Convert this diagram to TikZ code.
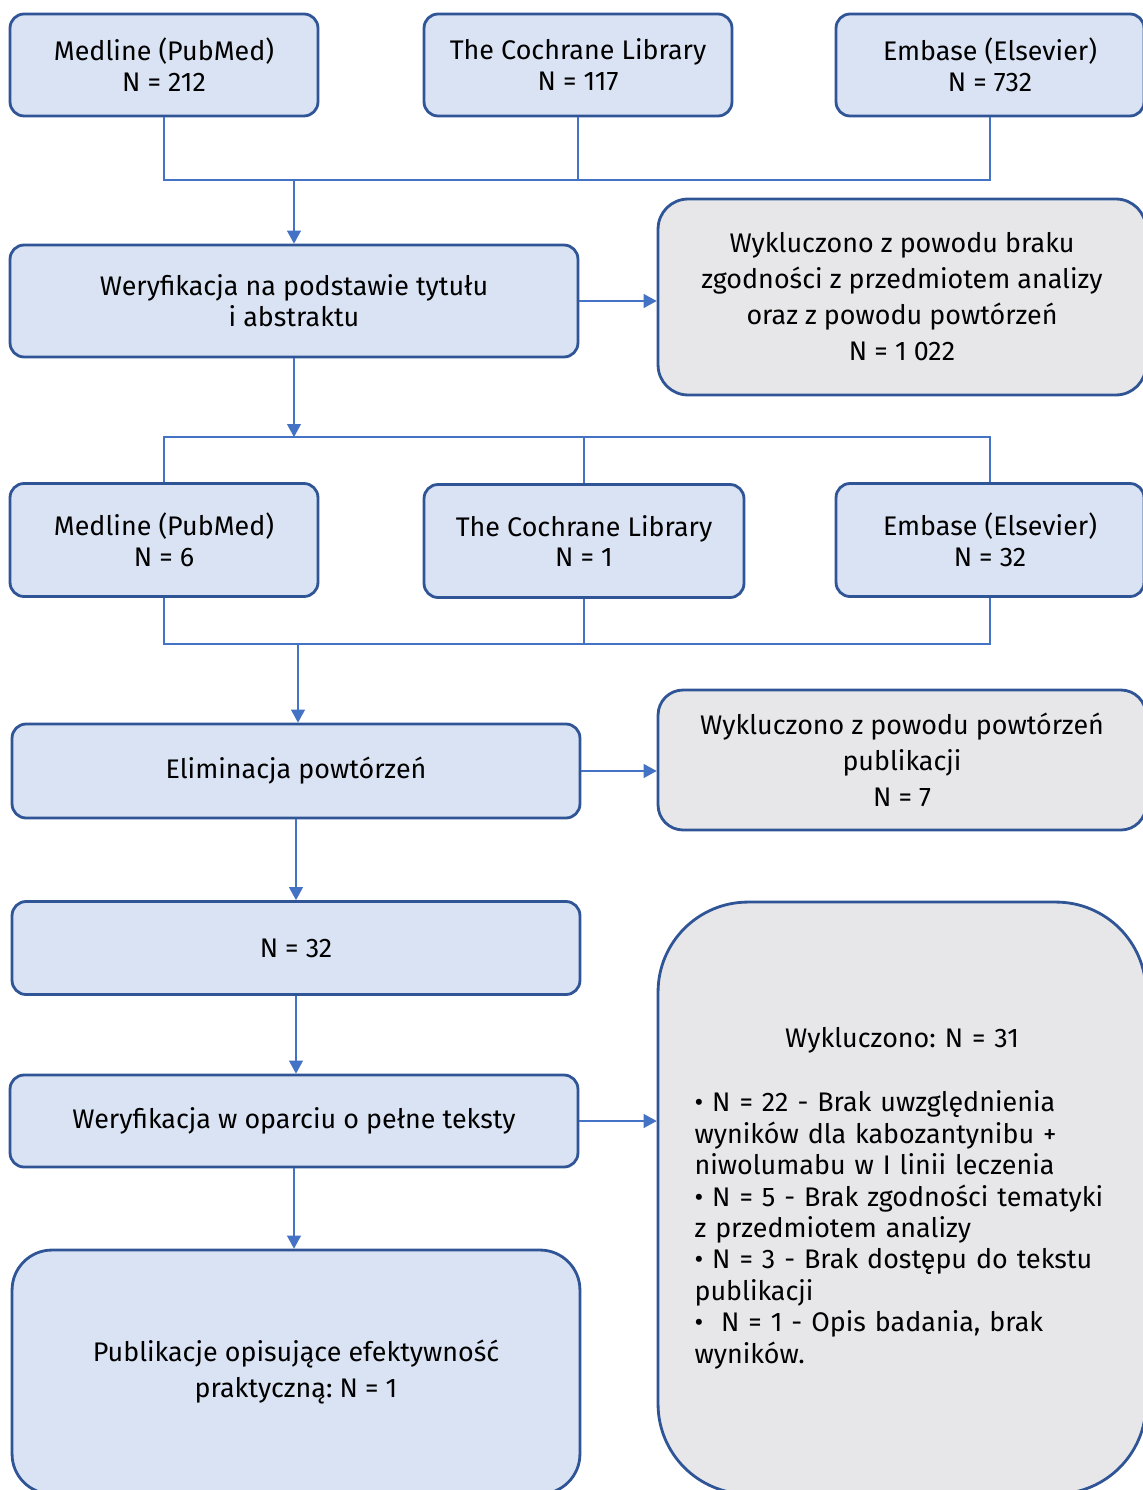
\documentclass[tikz,border=0pt]{standalone}
\usepackage{fontspec}
\setmainfont{Fira Sans}
\usepackage{tikz}
\usetikzlibrary{arrows.meta,positioning}

\definecolor{boxblue}{HTML}{DAE3F3}
\definecolor{boxgray}{HTML}{E7E7E9}
\definecolor{edgeblue}{HTML}{2F5597}
\definecolor{lineblue}{HTML}{4472C4}
\frenchspacing

\begin{document}
\begin{tikzpicture}[x=0.02cm, y=-0.02cm,
  baza/.style = {fill = boxblue, draw = edgeblue, line width = 1.6pt, shape = rectangle, rounded corners = 0.28cm, align = center, inner sep = 0pt, font = \fontsize{15.3}{17.6}\selectfont},
  szara/.style = {baza, fill = boxgray, font = \fontsize{15.3}{20.5}\selectfont},
  link/.style = {draw = lineblue, line width = 0.6pt},
  strzalka/.style = {link, -{Triangle[width = 0.28cm, length = 0.26cm]}}]
\useasboundingbox (0,0) rectangle (1142,1490);

% bazy - wyszukiwanie
\node[baza, minimum width = 6.16cm, minimum height = 2.04cm] (med1) at (164,65) {Medline (PubMed)\\N = 212};
\node[baza, minimum width = 6.16cm, minimum height = 2.04cm] (coch1) at (578,65) {The Cochrane Library\\N = 117};
\node[baza, minimum width = 6.16cm, minimum height = 2.04cm] (emb1) at (990,65) {Embase (Elsevier)\\N = 732};
\coordinate (j1) at (294,180);

\node[baza, minimum width = 11.36cm, minimum height = 2.24cm] (wer1) at (294,301) {Weryfikacja na podstawie tytułu\\i abstraktu};
\node[szara, rounded corners = 0.6cm, minimum width = 9.76cm, minimum height = 3.92cm] (wyk1) at (902,297) {Wykluczono z powodu braku\\zgodności z przedmiotem analizy\\oraz z powodu powtórzeń\\N = 1~022};
\coordinate (j2) at (294,437);

% bazy - po weryfikacji
\node[baza, minimum width = 6.16cm, minimum height = 2.26cm] (med2) at (164,540) {Medline (PubMed)\\N = 6};
\node[baza, minimum width = 6.4cm, minimum height = 2.26cm] (coch2) at (584,541) {The Cochrane Library\\N = 1};
\node[baza, minimum width = 6.16cm, minimum height = 2.26cm] (emb2) at (990,540) {Embase (Elsevier)\\N = 32};
\coordinate (j3) at (298,644);

\node[baza, minimum width = 11.36cm, minimum height = 1.88cm] (elim) at (296,771) {Eliminacja powtórzeń};
\node[szara, rounded corners = 0.5cm, minimum width = 9.76cm, minimum height = 2.8cm] (wyk2) at (902,760) {Wykluczono z powodu powtórzeń\\publikacji\\N = 7};

\node[baza, minimum width = 11.36cm, minimum height = 1.86cm] (n32) at (296,948) {N = 32};
\node[baza, minimum width = 11.36cm, minimum height = 1.84cm] (wer2) at (294,1121) {Weryfikacja w oparciu o pełne teksty};
\node[szara, font = \fontsize{15.3}{17.9}\selectfont, rounded corners = 1.8cm, minimum width = 9.76cm, minimum height = 11.84cm, text width = 8.3cm, align = left] (wyk3) at (902,1198) {\makebox[\linewidth]{Wykluczono: N = 31}\\[0.66cm]
• N = 22 - Brak uwzględnienia\\
wyników dla kabozantynibu +\\
niwolumabu w I linii leczenia\\
• N = 5 - Brak zgodności tematyki\\
z przedmiotem analizy\\
• N = 3 - Brak dostępu do tekstu\\
publikacji\\
•\ \ N = 1 - Opis badania, brak\\
wyników.};
\node[szara, fill = boxblue, rounded corners = 0.8cm, minimum width = 11.36cm, minimum height = 4.88cm] (publ) at (296,1372) {Publikacje opisujące efektywność\\praktyczną: N = 1};

% polaczenia
\draw[link] (med1.south) |- (j1) -| (emb1.south);
\draw[link] (coch1.south) -- (coch1.south |- j1);
\draw[strzalka] (j1) -- (wer1.north);
\draw[strzalka] (wer1.east) -- (wer1.east -| wyk1.west);
\draw[strzalka] (wer1.south) -- (j2);
\draw[link] (med2.north) |- (j2) -| (emb2.north);
\draw[link] (coch2.north) -- (coch2.north |- j2);
\draw[link] (med2.south) |- (j3) -| (emb2.south);
\draw[link] (coch2.south) -- (coch2.south |- j3);
\draw[strzalka] (j3) -- (j3 |- elim.north);
\draw[strzalka] (elim.east) -- (elim.east -| wyk2.west);
\draw[strzalka] (elim.south) -- (n32.north);
\draw[strzalka] (n32.south) -- (n32.south |- wer2.north);
\draw[strzalka] (wer2.east) -- (wer2.east -| wyk3.west);
\draw[strzalka] (wer2.south) -- (wer2.south |- publ.north);
\end{tikzpicture}
\end{document}
